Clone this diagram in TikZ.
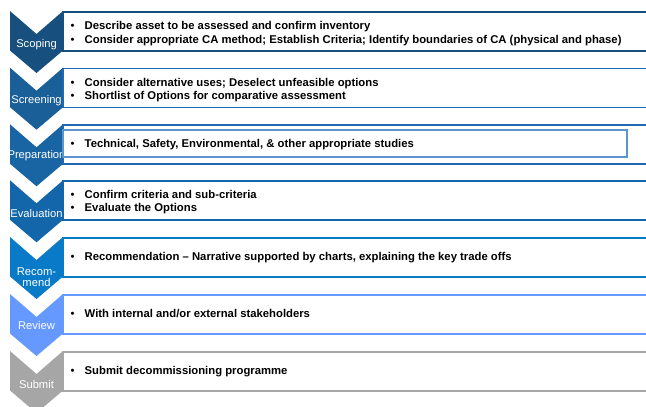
\documentclass[tikz,border=0pt]{standalone}
\usepackage{fontspec}
\setmainfont{Liberation Sans}
\definecolor{cA}{RGB}{23,80,126}
\definecolor{cB}{RGB}{26,95,152}
\definecolor{cC}{RGB}{25,100,163}
\definecolor{cD}{RGB}{20,102,170}
\definecolor{cE}{RGB}{8,122,200}
\definecolor{cF}{RGB}{102,153,255}
\definecolor{cG}{RGB}{166,166,166}
\definecolor{lB}{RGB}{30,105,175}
\definecolor{lC}{RGB}{90,150,205}
\newcommand\chevshape[2]{%
  \fill[#2] (10,#1) -- (36.5,#1+23) -- (63,#1) -- (63,#1+39.5) -- (36.5,#1+62) -- (10,#1+39.5) -- cycle;}
\newcommand\openbox[2]{%
  \draw[#2, line width=1.8pt, fill=white] (680,#1+0.7) -- (63,#1+0.7) -- (63,#1+39.7) -- (680,#1+39.7);}
\begin{document}
\begin{tikzpicture}[x=1pt,y=-1pt,
  lab/.style={text=white, font=\fontsize{11.2}{10.6}\selectfont, inner sep=0pt, align=center},
  itm/.style={anchor=base west, inner sep=0pt, font=\bfseries\fontsize{11.3}{12}\selectfont},
  bul/.style={anchor=base west, inner sep=0pt, font=\fontsize{11.3}{12}\selectfont}]
\useasboundingbox (0,0) rectangle (646,407);
\clip (0,0) rectangle (646,407);
% Row 1 Scoping
\chevshape{11}{cA}
\node[lab] (l1) at (36.5,11+33.5) {Scoping};
\openbox{11}{cA}
\node[bul] (b1a) at (70.5,11+18.5) {•};
\node[itm] (t1a) at (84.5,11+18.5) {Describe asset to be assessed and confirm inventory};
\node[bul] (b1b) at (70.5,11+32.6) {•};
\node[itm] (t1b) at (84.5,11+32.6) {Consider appropriate CA method; Establish Criteria; Identify boundaries of CA (physical and phase)};
% Row 2 Screening
\chevshape{67.7}{cB}
\node[lab] (l2) at (36.5,67.7+32.8) {Screening};
\openbox{67.7}{lB}
\node[bul] (b2a) at (70.5,67.7+18.6) {•};
\node[itm] (t2a) at (84.5,67.7+18.6) {Consider alternative uses; Deselect unfeasible options};
\node[bul] (b2b) at (70.5,67.7+31.8) {•};
\node[itm] (t2b) at (84.5,67.7+31.8) {Shortlist of Options for comparative assessment};
% Row 3 Preparation
\chevshape{124.3}{cC}
\node[lab] (l3) at (36.5,124.3+31.2) {Preparation};
\openbox{124.3}{lB}
\draw[lC, line width=1.6pt] (63,124.3+5.7) rectangle (627,124.3+32.7);
\node[bul] (b3a) at (70.5,124.3+23.6) {•};
\node[itm] (t3a) at (84.5,124.3+23.6) {Technical, Safety, Environmental, \& other appropriate studies};
% Row 4 Evaluation
\chevshape{180.3}{cD}
\node[lab] (l4) at (36.5,180.3+32.9) {Evaluation};
\openbox{180.3}{cD}
\node[bul] (b4a) at (70.5,180.3+17.8) {•};
\node[itm] (t4a) at (84.5,180.3+17.8) {Confirm criteria and sub-criteria};
\node[bul] (b4b) at (70.5,180.3+30.8) {•};
\node[itm] (t4b) at (84.5,180.3+30.8) {Evaluate the Options};
% Row 5 Recommend
\chevshape{237}{cE}
\node[lab] (l5) at (36.5,237+40) {Recom-\\mend};
\openbox{237}{cE}
\node[bul] (b5a) at (70.5,237+23) {•};
\node[itm] (t5a) at (84.5,237+23) {Recommendation – Narrative supported by charts, explaining the key trade offs};
% Row 6 Review
\chevshape{294}{cF}
\node[lab] (l6) at (36.5,294+31.5) {Review};
\openbox{294}{cF}
\node[bul] (b6a) at (70.5,294+23) {•};
\node[itm] (t6a) at (84.5,294+23) {With internal and/or external stakeholders};
% Row 7 Submit
\chevshape{351}{cG}
\node[lab] (l7) at (36.5,351+33.5) {Submit};
\openbox{351}{cG}
\node[bul] (b7a) at (70.5,351+23) {•};
\node[itm] (t7a) at (84.5,351+23) {Submit decommissioning programme};
\end{tikzpicture}
\end{document}
